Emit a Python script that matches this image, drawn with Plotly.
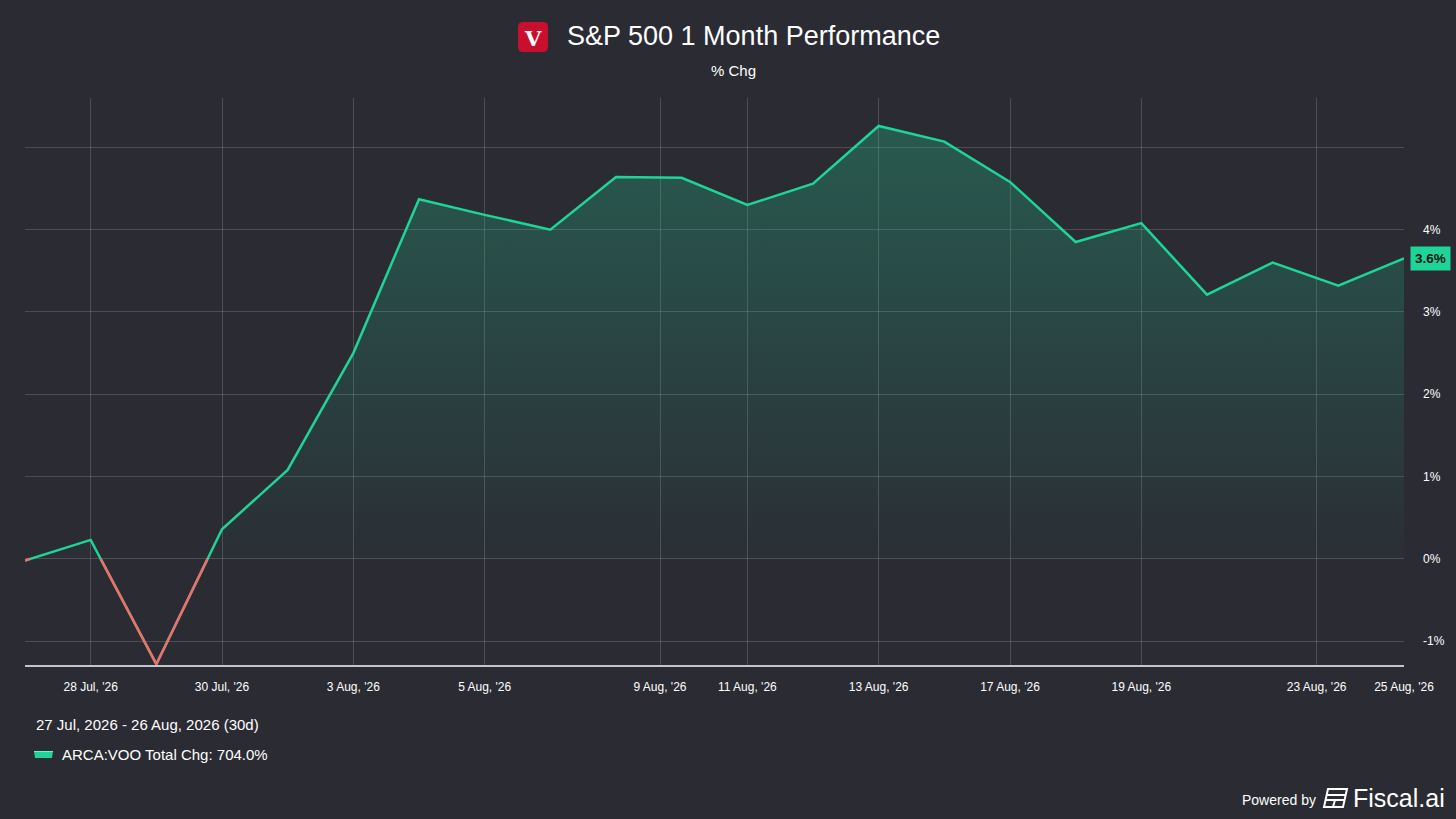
import numpy as np
import plotly.graph_objects as go

# trading days shown on the chart (27 Jul - 25 Aug 2026)
dates = ["27 Jul", "28 Jul", "29 Jul", "30 Jul", "31 Jul", "3 Aug", "4 Aug", "5 Aug",
         "6 Aug", "7 Aug", "10 Aug", "11 Aug", "12 Aug", "13 Aug", "14 Aug", "17 Aug",
         "18 Aug", "19 Aug", "20 Aug", "21 Aug", "24 Aug", "25 Aug"]
pct_chg = [-0.02, 0.23, -1.28, 0.36, 1.08, 2.50, 4.37, 4.18, 4.00, 4.64, 4.63, 4.30,
           4.56, 5.26, 5.07, 4.58, 3.85, 4.08, 3.21, 3.60, 3.32, 3.65]

tick_labels = ["28 Jul, '26", "30 Jul, '26", "3 Aug, '26", "5 Aug, '26", "9 Aug, '26",
               "11 Aug, '26", "13 Aug, '26", "17 Aug, '26", "19 Aug, '26", "23 Aug, '26",
               "25 Aug, '26"]
tick_pos = [1, 3, 5, 7, 9.67, 11, 13, 15, 17, 19.67, 21]

y_ticks = [-1, 0, 1, 2, 3, 4, 5]
y_tick_text = ["-1%", "0%", "1%", "2%", "3%", "4%", ""]

GREEN = "#1fd497"
RED = "#f06e6a"
BG = "#2b2b34"
FONT = "Liberation Sans, Arial, sans-serif"

x = np.arange(len(pct_chg), dtype=float)
y = np.array(pct_chg)

# split the line at zero so the part below zero can be drawn red
pos_x, pos_y, neg_x, neg_y = [], [], [], []
for i in range(len(y)):
    if i > 0 and (y[i - 1] >= 0) != (y[i] >= 0):
        xc = x[i - 1] + (0 - y[i - 1]) / (y[i] - y[i - 1])
        pos_x.append(xc); pos_y.append(0.0)
        neg_x.append(xc); neg_y.append(0.0)
        if y[i] >= 0:
            neg_x.append(None); neg_y.append(None)
    if y[i] >= 0:
        pos_x.append(x[i]); pos_y.append(y[i])
    else:
        pos_x.append(x[i]); pos_y.append(0.0)
        neg_x.append(x[i]); neg_y.append(y[i])

# plot area in pixels
L, R, T, B = 25, 1404, 98, 665


def px(v):
    return (v - L) / (R - L)


def py(v):
    return (B - v) / (B - T)


def label(text, xp, yp, size, xanchor="center", **kw):
    return dict(text=text, x=px(xp), y=py(yp), xref="paper", yref="paper", showarrow=False,
                xanchor=xanchor, yanchor="middle",
                font=dict(size=size, color=kw.pop("color", "white"), family=kw.pop("family", FONT)),
                **kw)


fig = go.Figure()

fig.add_trace(go.Scatter(
    x=pos_x, y=pos_y, mode="lines", line=dict(width=0), fill="tozeroy",
    fillgradient=dict(type="vertical",
                      colorscale=[[0, "rgba(31,212,151,0.02)"], [1, "rgba(31,212,151,0.28)"]]),
    hoverinfo="skip", showlegend=False))

fig.add_trace(go.Scatter(x=x, y=y, mode="lines", line=dict(color=GREEN, width=2.5),
                         showlegend=False, hovertemplate="%{y:.2f}%<extra></extra>"))
fig.add_trace(go.Scatter(x=neg_x, y=neg_y, mode="lines", line=dict(color=RED, width=2.5),
                         showlegend=False, hoverinfo="skip"))

shapes = []
# vanguard logo: rounded red square
a, b_, c, d, r = 518, 548, 22, 52, 5
shapes.append(dict(type="path", xref="paper", yref="paper", fillcolor="#c8102e", line=dict(width=0),
                   path=(f"M {px(a + r)},{py(c)} L {px(b_ - r)},{py(c)} Q {px(b_)},{py(c)} {px(b_)},{py(c + r)} "
                         f"L {px(b_)},{py(d - r)} Q {px(b_)},{py(d)} {px(b_ - r)},{py(d)} "
                         f"L {px(a + r)},{py(d)} Q {px(a)},{py(d)} {px(a)},{py(d - r)} "
                         f"L {px(a)},{py(c + r)} Q {px(a)},{py(c)} {px(a + r)},{py(c)} Z")))
# legend swatch
shapes.append(dict(type="path", xref="paper", yref="paper",
                   path=f"M {px(34)},{py(751)} L {px(53)},{py(751)} L {px(52)},{py(758)} "
                        f"L {px(35)},{py(758)} Z",
                   fillcolor=GREEN, line=dict(width=0)))
shapes.append(dict(type="line", xref="paper", yref="paper", x0=px(34), x1=px(53),
                   y0=py(751.5), y1=py(751.5), line=dict(color="#7fe8c4", width=1)))
# fiscal.ai icon
shapes.append(dict(type="path", xref="paper", yref="paper",
                   path=f"M {px(1328)},{py(789)} L {px(1347)},{py(789)} L {px(1343)},{py(807)} "
                        f"L {px(1324)},{py(807)} Z",
                   fillcolor="rgba(0,0,0,0)", line=dict(color="white", width=2)))
shapes.append(dict(type="line", xref="paper", yref="paper", x0=px(1327), x1=px(1346),
                   y0=py(795), y1=py(795), line=dict(color="white", width=2)))
shapes.append(dict(type="line", xref="paper", yref="paper", x0=px(1326), x1=px(1345),
                   y0=py(800), y1=py(800), line=dict(color="white", width=2)))
shapes.append(dict(type="line", xref="paper", yref="paper", x0=px(1335), x1=px(1333),
                   y0=py(800), y1=py(807), line=dict(color="white", width=2)))

annotations = [
    label("S&P 500 1 Month Performance", 753, 36, 27),
    label("<b>V</b>", 533, 38, 21, family="DejaVu Serif, serif"),
    label("% Chg", 733, 71, 15),
    label("27 Jul, 2026 - 26 Aug, 2026 (30d)", 34, 724, 15, xanchor="left"),
    label("ARCA:VOO Total Chg: 704.0%", 60, 754, 15, xanchor="left"),
    label("Powered by", 1318, 800, 14, xanchor="right"),
    label("Fiscal.ai", 1351, 798, 25, xanchor="left"),
    dict(text="<b>%.1f%%</b>" % pct_chg[-1], x=px(1430.5), y=pct_chg[-1], xref="paper", yref="y",
         xanchor="center", yanchor="middle", showarrow=False, bgcolor=GREEN, borderpad=4,
         font=dict(size=13.5, color="#111111", family=FONT)),
]

fig.update_layout(
    width=1456, height=819,
    margin=dict(l=L, r=1456 - R, t=T, b=819 - B),
    paper_bgcolor=BG, plot_bgcolor=BG,
    font=dict(family=FONT, color="white"),
    shapes=shapes, annotations=annotations,
    hovermode="x",
)
fig.update_xaxes(range=[0, len(pct_chg) - 1], tickvals=tick_pos, ticktext=tick_labels,
                 showgrid=True, gridcolor="rgba(255,255,255,0.16)", gridwidth=1,
                 showline=True, linecolor="#c4c4cc", linewidth=1.5, zeroline=False,
                 ticks="", tickfont=dict(size=12, color="white"), ticklabelstandoff=10)
fig.update_yaxes(range=[-1.29, 5.6], side="right", tickvals=y_ticks, ticktext=y_tick_text,
                 showgrid=True, gridcolor="rgba(255,255,255,0.16)", gridwidth=1,
                 zeroline=False, ticks="", tickfont=dict(size=12, color="white"),
                 ticklabelstandoff=18)

fig.write_html("out.html", config={"displayModeBar": False},
               post_script="document.body.style.margin='0';")
